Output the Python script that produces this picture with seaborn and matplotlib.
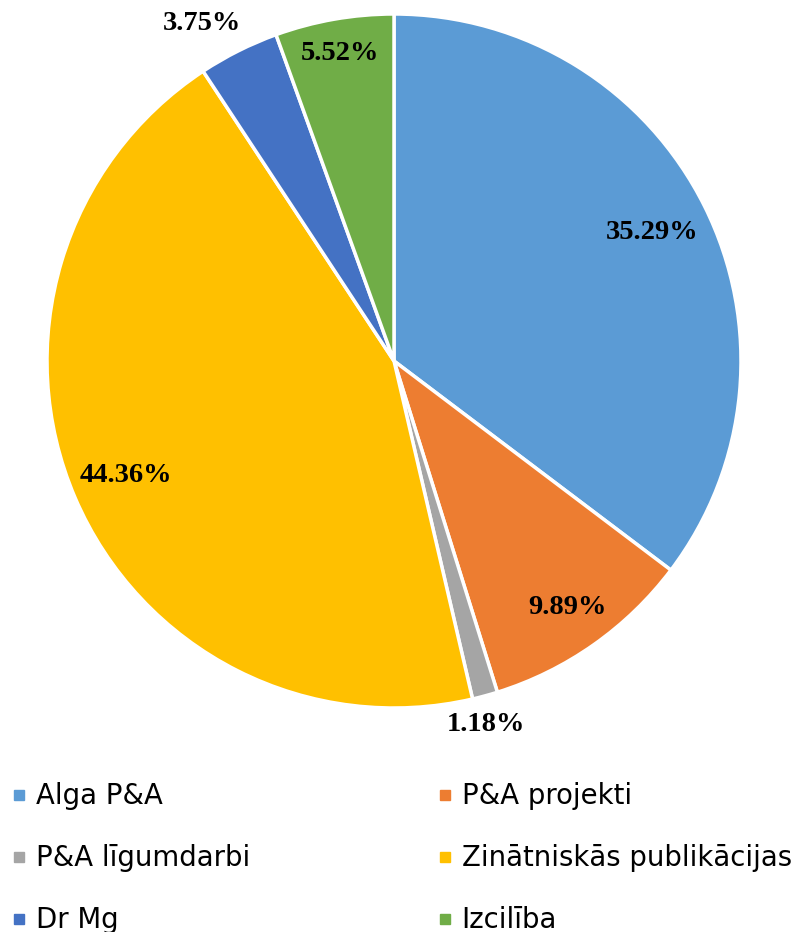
import numpy as np
import matplotlib
matplotlib.use("Agg")
import matplotlib.pyplot as plt
import seaborn as sns
from matplotlib.lines import Line2D

categories = ["Alga P&A", "P&A projekti", "P&A līgumdarbi",
              "Zinātniskās publikācijas", "Dr Mg", "Izcilība"]
values = [35.29, 9.89, 1.18, 44.36, 3.75, 5.52]
colors = ["#5B9BD5", "#ED7D31", "#A5A5A5", "#FFC000", "#4472C4", "#70AD47"]
label_dist = [0.83, 0.87, 1.08, 0.84, 1.12, 0.90]
label_angle_shift = [0, 0, -1, 0, 3.0, 0]

sns.set_theme(style="white")
plt.rcParams['font.family'] = ['DejaVu Sans']
plt.rcParams['text.color'] = 'black'
palette = sns.color_palette(colors)

W, H = 800, 932
fig = plt.figure(figsize=(W / 100, H / 100), dpi=100)
cx, cy, r = 394, 361, 347
ax = fig.add_axes([(cx - r) / W, 1 - (cy + r) / H, 2 * r / W, 2 * r / H])

wedges, _ = ax.pie(values, colors=palette, startangle=90, counterclock=False,
                   wedgeprops=dict(edgecolor="white", linewidth=2.5))
for w, v, d, s in zip(wedges, values, label_dist, label_angle_shift):
    ang = np.deg2rad((w.theta1 + w.theta2) / 2 + s)
    ax.text(d * np.cos(ang), d * np.sin(ang), f"{v:.2f}%", ha="center", va="center",
            fontsize=20.5, fontweight="bold", family="Liberation Serif", color="black")
ax.set_xlim(-1, 1)
ax.set_ylim(-1, 1)
ax.set_aspect("equal")
ax.axis("off")

order = [0, 2, 4, 1, 3, 5]
handles = [Line2D([], [], marker="s", linestyle="none", markersize=6.5,
                  markerfacecolor=palette[i], markeredgecolor=palette[i]) for i in order]
labels = [categories[i] for i in order]
leg = fig.legend(handles, labels, ncol=2, loc="upper left",
                 bbox_to_anchor=(4 / W, 1 - 774 / H), frameon=False, fontsize=19.8,
                 handlelength=0.5, handletextpad=0.35, labelspacing=1.24,
                 columnspacing=6.85, borderaxespad=0, borderpad=0.3)
for t in leg.get_texts():
    t.set_color("black")

fig.savefig("out.png", dpi=100, facecolor="white")
